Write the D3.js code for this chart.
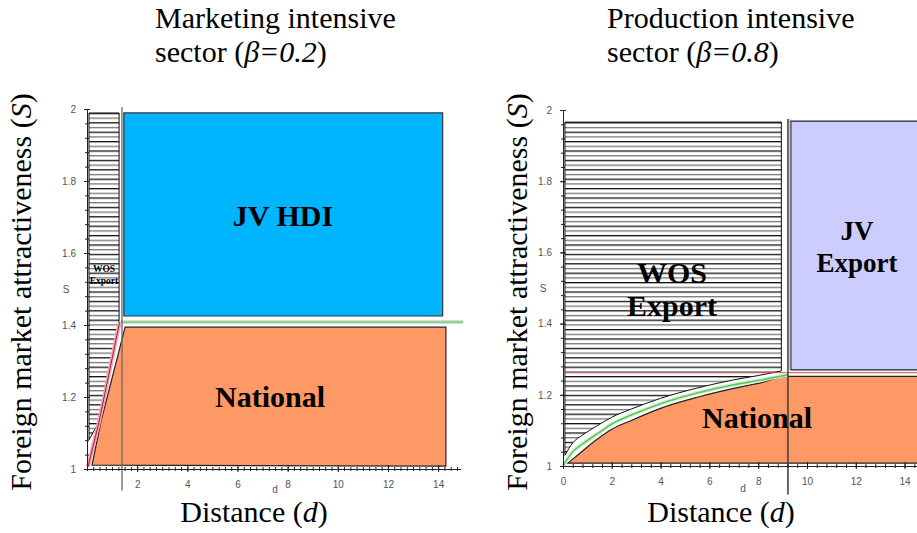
<!DOCTYPE html>
<meta charset="utf-8">
<style>
    body { margin: 0; background: #fff; }
    text { font-family: "Liberation Serif", "Times New Roman", serif; }
    .tick text { font-family: "Liberation Sans", Arial, sans-serif; font-size: 10px; fill: #555; }
</style>
<body>
<svg width="917" height="533"></svg>
<script src="https://cdn.jsdelivr.net/npm/d3@7/dist/d3.min.js"></script>
<script>
    // d = distance, S = foreign market attractiveness
    let leftXTicks = [2, 4, 6, 8, 10, 12, 14],
        rightXTicks = [0, 2, 4, 6, 8, 10, 12, 14],
        yTicks = [1, 1.2, 1.4, 1.6, 1.8, 2];

    // marketing intensive sector (beta = 0.2), points are [d, S]
    let mktWos = [[0.08, 1.989], [1.28, 1.989], [1.28, 1.414], [0.52, 1.136], [0.08, 1.081]],
        mktJvHdi = [[1.47, 1.989], [14.18, 1.989], [14.18, 1.425], [1.47, 1.425]],
        mktNational = [[0.2, 1.011], [0.56, 1.133], [1.52, 1.394], [14.31, 1.394], [14.31, 1.008]],
        mktPink = [[0.04, 1.006], [0.48, 1.131], [1.3, 1.408]],
        mktGreen = [[1.35, 1.408], [15, 1.408]],
        mktSplit = 1.395;

    // production intensive sector (beta = 0.8)
    let prodWosFloor = [[0.08, 1.03], [0.4, 1.065], [0.8, 1.087], [1.4, 1.113], [2, 1.137], [2.8, 1.16],
            [4, 1.19], [5.5, 1.219], [7, 1.242], [8, 1.254], [8.95, 1.267]],
        prodWosTop = 1.966,
        prodCurve = [[0, 1.0], [0.4, 1.04], [0.8, 1.062], [1.4, 1.09], [2, 1.118], [2.8, 1.143],
            [4, 1.175], [5.5, 1.205], [7, 1.228], [8, 1.24], [9.2, 1.256]],
        prodNationalTop = [[0.2, 1.008], [0.5, 1.025], [0.9, 1.048], [1.4, 1.075], [2, 1.103], [2.8, 1.128],
            [4, 1.162], [5.5, 1.193], [7, 1.218], [8, 1.232], [9.2, 1.252], [15, 1.252]],
        prodNationalBottom = 1.008,
        prodJv = [[9.34, 1.969], [15.2, 1.969], [15.2, 1.27], [9.34, 1.27]],
        prodRed = [[0.08, 1.262], [15.2, 1.262]],
        prodSplit = 9.22;

    let svg = d3.select("svg");

    // horizontal hatching like the maple plot
    let pat = svg.append("defs").append("pattern")
        .attr("id", "hatch")
        .attr("patternUnits", "userSpaceOnUse")
        .attr("width", 10).attr("height", 9.4);
    pat.append("rect").attr("width", 10).attr("height", 9.4).attr("fill", "#fff");
    pat.append("rect").attr("y", 0).attr("width", 10).attr("height", 1.3).attr("fill", "#111");
    pat.append("rect").attr("y", 4.7).attr("width", 10).attr("height", 1.3).attr("fill", "#777");

    function drawAxes(g, x, y, xTicks, xMinor, yMinor) {
        let y0 = y(1), x0 = x(0);
        // minor ticks
        g.append("g").attr("transform", "translate(0," + y0 + ")")
            .call(d3.axisBottom(x).tickValues(xMinor).tickFormat("").tickSize(0).tickSizeOuter(0))
            .call(a => a.select(".domain").remove())
            .call(a => a.selectAll(".tick line").attr("y1", -2).attr("y2", 2).attr("stroke", "#222"));
        g.append("g").attr("transform", "translate(" + x0 + ",0)")
            .call(d3.axisLeft(y).tickValues(yMinor).tickFormat("").tickSize(0).tickSizeOuter(0))
            .call(a => a.select(".domain").remove())
            .call(a => a.selectAll(".tick line").attr("x1", -2).attr("x2", 2).attr("stroke", "#222"));
        // major ticks
        g.append("g").attr("transform", "translate(0," + y0 + ")")
            .call(d3.axisBottom(x).tickValues(xTicks).tickFormat(d3.format("~g")).tickSizeOuter(0).tickPadding(6))
            .call(a => a.select(".domain").attr("stroke", "#222"))
            .call(a => a.selectAll(".tick line").attr("y1", -4).attr("y2", 3).attr("stroke", "#222"));
        g.append("g").attr("transform", "translate(" + x0 + ",0)")
            .call(d3.axisLeft(y).tickValues(yTicks).tickFormat(d3.format("~g")).tickSizeOuter(0).tickPadding(5))
            .call(a => a.select(".domain").attr("stroke", "#222"))
            .call(a => a.selectAll(".tick line").attr("x1", -3).attr("x2", 3).attr("stroke", "#222"));
    }

    function titles(g, tx, lines, beta, yx, xcx) {
        let t = g.append("text").attr("x", tx).attr("y", 28).style("font-size", "30px");
        t.text(lines);
        let t2 = g.append("text").attr("x", tx).attr("y", 62).style("font-size", "30px");
        t2.append("tspan").text("sector (");
        t2.append("tspan").style("font-style", "italic").text("\u03B2=" + beta);
        t2.append("tspan").text(")");

        let yt = g.append("text")
            .attr("transform", "translate(" + yx + ",292) rotate(-90)")
            .attr("text-anchor", "middle")
            .style("font-size", "30px");
        yt.append("tspan").text("Foreign market attractiveness (");
        yt.append("tspan").style("font-style", "italic").text("S");
        yt.append("tspan").text(")");

        let xt = g.append("text").attr("x", xcx).attr("y", 522)
            .attr("text-anchor", "middle").style("font-size", "30px");
        xt.append("tspan").text("Distance (");
        xt.append("tspan").style("font-style", "italic").text("d");
        xt.append("tspan").text(")");
    }

    function label(g, x, y, lines, size, dy) {
        let t = g.append("text").attr("text-anchor", "middle")
            .style("font-size", size + "px").style("font-weight", "bold");
        lines.forEach(function (s, i) {
            t.append("tspan").attr("x", x).attr("y", y + i * dy).text(s);
        });
    }

    // ---------------- left panel ----------------
    let xL = d3.scaleLinear().domain([0, 14.9]).range([87, 460.7]),
        yL = d3.scaleLinear().domain([1, 2]).range([469, 109]);
    let lineL = d3.line().x(d => xL(d[0])).y(d => yL(d[1]));
    let gL = svg.append("g");

    gL.append("path").attr("d", lineL(mktWos) + "Z")
        .attr("fill", "url(#hatch)").attr("stroke", "#111").attr("stroke-width", 1);
    gL.append("path").attr("d", lineL(mktJvHdi) + "Z")
        .attr("fill", "#00b4fe").attr("stroke", "#333").attr("stroke-width", 1.2);
    gL.append("path").attr("d", lineL(mktNational) + "Z")
        .attr("fill", "#fe9966").attr("stroke", "#222").attr("stroke-width", 1.2);
    gL.append("path").attr("d", lineL(mktPink))
        .attr("fill", "none").attr("stroke", "#f0a8b8").attr("stroke-width", 4);
    gL.append("path").attr("d", lineL(mktPink))
        .attr("fill", "none").attr("stroke", "#b02030").attr("stroke-width", 1);
    gL.append("path").attr("d", lineL(mktGreen))
        .attr("fill", "none").attr("stroke", "#dcdcdc").attr("stroke-width", 4);
    gL.append("path").attr("d", lineL(mktGreen))
        .attr("fill", "none").attr("stroke", "#7ed67e").attr("stroke-width", 1.8);
    gL.append("line")
        .attr("x1", xL(mktSplit)).attr("x2", xL(mktSplit))
        .attr("y1", yL(2.005)).attr("y2", yL(0.94))
        .attr("stroke", "#666").attr("stroke-width", 1.3);

    drawAxes(gL, xL, yL, leftXTicks, d3.range(0, 14.9, 0.25), d3.range(1, 2.001, 0.04));
    gL.append("text").attr("x", 66).attr("y", 293).attr("text-anchor", "middle")
        .style("font-family", "Liberation Sans, Arial, sans-serif").style("font-size", "10px").attr("fill", "#555").text("S");
    gL.append("text").attr("x", 275).attr("y", 493).attr("text-anchor", "middle")
        .style("font-family", "Liberation Sans, Arial, sans-serif").style("font-size", "10px").attr("fill", "#555").text("d");

    label(gL, 283, 226, ["JV HDI"], 30, 0);
    label(gL, 270, 407, ["National"], 30, 0);
    label(gL, 104, 272, ["WOS", "Export"], 9.5, 12);
    titles(gL, 155, "Marketing intensive", "0.2", 31, 254);

    // ---------------- right panel ----------------
    let xR = d3.scaleLinear().domain([0, 14.6]).range([563, 919.2]),
        yR = d3.scaleLinear().domain([1, 2]).range([466, 110]);
    let lineR = d3.line().x(d => xR(d[0])).y(d => yR(d[1]));
    let curveR = d3.line().x(d => xR(d[0])).y(d => yR(d[1])).curve(d3.curveMonotoneX);
    let gR = svg.append("g");

    let last = prodWosFloor[prodWosFloor.length - 1], first = prodWosFloor[0];
    gR.append("path")
        .attr("d", curveR(prodWosFloor) + "L" + xR(last[0]) + "," + yR(prodWosTop)
            + "L" + xR(first[0]) + "," + yR(prodWosTop) + "Z")
        .attr("fill", "url(#hatch)").attr("stroke", "#111").attr("stroke-width", 1);
    gR.append("path").attr("d", lineR(prodJv) + "Z")
        .attr("fill", "#ccccfe").attr("stroke", "#222").attr("stroke-width", 1.2);

    let nLast = prodNationalTop[prodNationalTop.length - 1], nFirst = prodNationalTop[0];
    gR.append("path")
        .attr("d", curveR(prodNationalTop) + "L" + xR(nLast[0]) + "," + yR(prodNationalBottom)
            + "L" + xR(nFirst[0]) + "," + yR(prodNationalBottom) + "Z")
        .attr("fill", "#fe9966").attr("stroke", "#222").attr("stroke-width", 1.2);
    gR.append("path").attr("d", lineR(prodRed))
        .attr("fill", "none").attr("stroke", "#c05050").attr("stroke-width", 1);
    gR.append("path").attr("d", curveR(prodCurve))
        .attr("fill", "none").attr("stroke", "#d8f0d8").attr("stroke-width", 4);
    gR.append("path").attr("d", curveR(prodCurve))
        .attr("fill", "none").attr("stroke", "#5cc85c").attr("stroke-width", 1.6);
    gR.append("line")
        .attr("x1", xR(prodSplit)).attr("x2", xR(prodSplit))
        .attr("y1", yR(1.975)).attr("y2", yR(0.92))
        .attr("stroke", "#444").attr("stroke-width", 1.6);
    gR.append("line")
        .attr("x1", xR(prodSplit) + 2).attr("x2", xR(prodSplit) + 2)
        .attr("y1", yR(1.975)).attr("y2", yR(1.27))
        .attr("stroke", "#999").attr("stroke-width", 1);

    drawAxes(gR, xR, yR, rightXTicks, d3.range(0, 14.6, 0.4), d3.range(1, 2.001, 0.04));
    gR.append("text").attr("x", 543).attr("y", 292).attr("text-anchor", "middle")
        .style("font-family", "Liberation Sans, Arial, sans-serif").style("font-size", "10px").attr("fill", "#555").text("S");
    gR.append("text").attr("x", 743).attr("y", 492).attr("text-anchor", "middle")
        .style("font-family", "Liberation Sans, Arial, sans-serif").style("font-size", "10px").attr("fill", "#555").text("d");

    label(gR, 672, 283, ["WOS", "Export"], 30, 33);
    label(gR, 857, 240, ["JV", "Export"], 27, 32);
    label(gR, 757, 428, ["National"], 30, 0);
    titles(gR, 607, "Production intensive", "0.8", 527, 721);
</script>
</body>
